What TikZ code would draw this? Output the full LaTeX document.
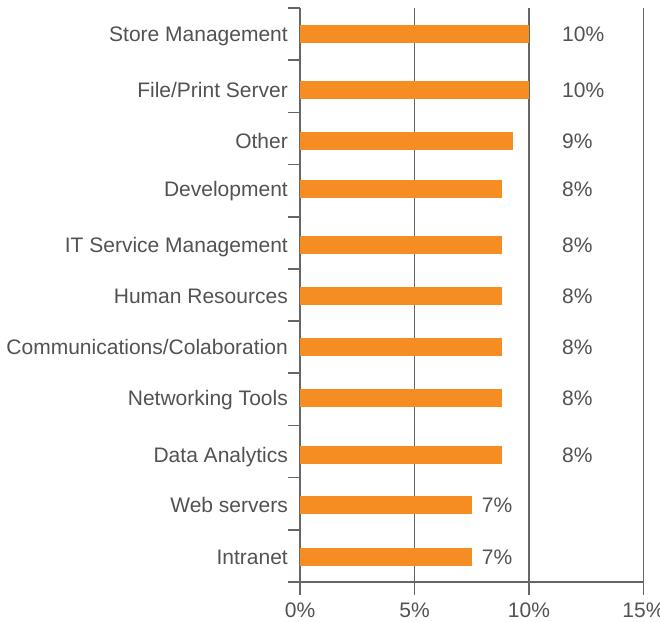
\documentclass[tikz,border=0pt]{standalone}
\usepackage{fontspec}
\setmainfont{Liberation Sans}
\usetikzlibrary{positioning}
\definecolor{barorange}{HTML}{F58D22}
\definecolor{txtgray}{HTML}{525252}
\definecolor{axisgray}{HTML}{666666}

\begin{document}
\begin{tikzpicture}[x=1pt,y=-1pt]

    \tikzset
    {
        font={\fontsize{21pt}{25pt}\selectfont},
        catlabel/.style={anchor=base east, text=txtgray, inner sep=0pt},
        vallabel/.style={anchor=base west, text=txtgray, inner sep=0pt},
        ticklabel/.style={anchor=base, text=txtgray, inner sep=0pt},
        barfill/.style={fill=barorange},
        axisline/.style={draw=axisgray, line width=1.6pt}
    }

    \useasboundingbox (0,0) rectangle (660,621);

    \pgfmathsetmacro{\xzero}{300}
    \pgfmathsetmacro{\pct}{22.9}
    \pgfmathsetmacro{\ytop}{8}
    \pgfmathsetmacro{\yaxis}{582}
    \pgfmathsetmacro{\rowh}{52.18}

    % grid and axes
    \foreach \t in {0,5,10,15}
    {
        \coordinate (grid-top-\t) at (\xzero+\t*\pct,\ytop);
        \coordinate (grid-bot-\t) at (\xzero+\t*\pct,595);
        \draw[axisline] (grid-top-\t) -- (grid-bot-\t);
        \node[ticklabel] (tick-\t) at (\xzero+\t*\pct,617) {\t\%};
    }
    \coordinate (axis-left) at (288,\yaxis);
    \coordinate (axis-right) at (\xzero+15*\pct,\yaxis);
    \draw[axisline] (axis-left) -- (axis-right);
    \foreach \k in {0,...,10}
    {
        \coordinate (cat-tick-a-\k) at (288,\ytop+\k*\rowh);
        \coordinate (cat-tick-b-\k) at (\xzero,\ytop+\k*\rowh);
        \draw[axisline] (cat-tick-a-\k) -- (cat-tick-b-\k);
    }

    % bars
    \foreach \i/\lab/\val/\txt/\y in
    {
        1/{Store Management}/10/{10\%}/34,
        2/{File/Print Server}/10/{10\%}/90,
        3/{Other}/9.3/{9\%}/141,
        4/{Development}/8.8/{8\%}/189,
        5/{IT Service Management}/8.8/{8\%}/245,
        6/{Human Resources}/8.8/{8\%}/296,
        7/{Communications/Colaboration}/8.8/{8\%}/347,
        8/{Networking Tools}/8.8/{8\%}/398,
        9/{Data Analytics}/8.8/{8\%}/455,
        10/{Web servers}/7.5/{7\%}/505,
        11/{Intranet}/7.5/{7\%}/557
    }
    {
        \coordinate (bar-start-\i) at (\xzero,\y-9);
        \coordinate (bar-end-\i) at (\xzero+\val*\pct,\y+9);
        \fill[barfill] (bar-start-\i) rectangle (bar-end-\i);
        \node[catlabel] (cat-\i) at (288,\y+7.5) {\lab};
        \ifdim \val pt < 8pt
            \node[vallabel] (val-\i) at (\xzero+\val*\pct+10,\y+7.5) {\txt};
        \else
            \node[vallabel] (val-\i) at (562,\y+7.5) {\txt};
        \fi
    }

\end{tikzpicture}
\end{document}
